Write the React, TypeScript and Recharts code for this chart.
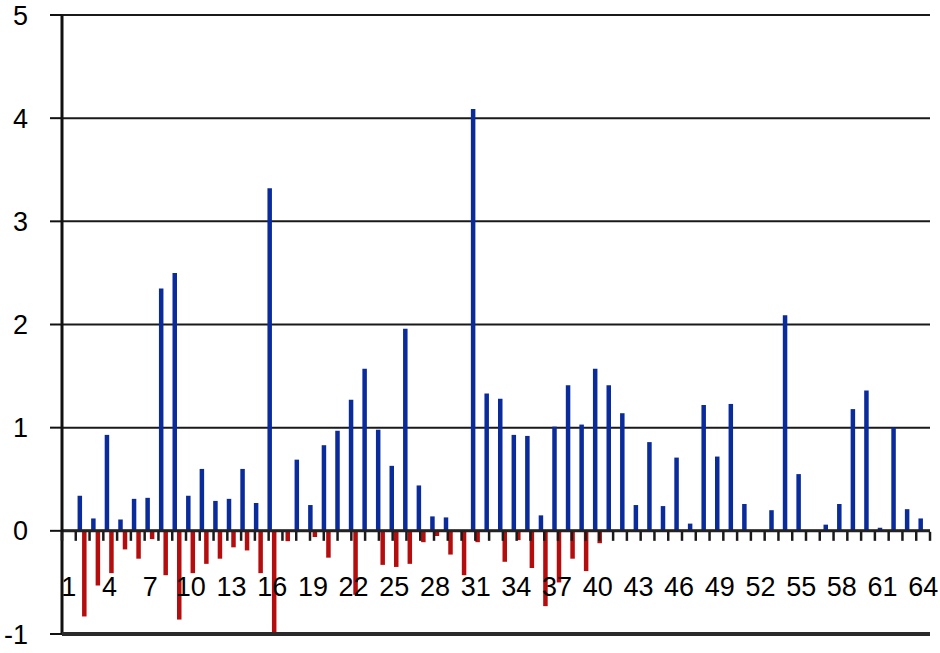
import React from 'react';
import { BarChart, Bar, XAxis, YAxis, CartesianGrid, ReferenceLine } from 'recharts';

const categories = [
  1, 2, 3, 4, 5, 6, 7, 8, 9, 10, 11, 12, 13, 14, 15, 16,
  17, 18, 19, 20, 21, 22, 23, 24, 25, 26, 27, 28, 29, 30, 31, 32,
  33, 34, 35, 36, 37, 38, 39, 40, 41, 42, 43, 44, 45, 46, 47, 48,
  49, 50, 51, 52, 53, 54, 55, 56, 57, 58, 59, 60, 61, 62, 63, 64,
];

const blueValues = [
  0, 0.34, 0.12, 0.93, 0.11, 0.31, 0.32, 2.35, 2.5, 0.34, 0.6, 0.29, 0.31, 0.6, 0.27, 3.32,
  0, 0.69, 0.25, 0.83, 0.97, 1.27, 1.57, 0.98, 0.63, 1.96, 0.44, 0.14, 0.13, 0, 4.09, 1.33,
  1.28, 0.93, 0.92, 0.15, 1.01, 1.41, 1.03, 1.57, 1.41, 1.14, 0.25, 0.86, 0.24, 0.71, 0.07, 1.22,
  0.72, 1.23, 0.26, 0, 0.2, 2.09, 0.55, 0, 0.06, 0.26, 1.18, 1.36, 0.03, 1.0, 0.21, 0.12,
];

const redValues = [
  0, -0.83, -0.53, -0.41, -0.18, -0.27, -0.08, -0.43, -0.86, -0.41, -0.32, -0.27, -0.16, -0.19, -0.41, -0.99,
  -0.1, 0, -0.06, -0.26, 0, -0.62, 0, -0.33, -0.35, -0.32, -0.11, -0.05, -0.23, -0.43, -0.11, 0,
  -0.3, -0.09, -0.36, -0.73, -0.5, -0.27, -0.39, -0.12, 0, 0, 0, 0, 0, 0, 0, 0,
  0, 0, 0, 0, 0, 0, 0, 0, 0, 0, 0, 0, 0, 0, 0, 0,
];

const labeledCategories = [1, 4, 7, 10, 13, 16, 19, 22, 25, 28, 31, 34, 37, 40, 43, 46, 49, 52, 55, 58, 61, 64];
const yTicks = [-1, 0, 1, 2, 3, 4, 5];
const edgeTicks = [
  0, 1, 2, 3, 4, 5, 6, 7, 8, 9, 10, 11, 12, 13, 14, 15, 16,
  17, 18, 19, 20, 21, 22, 23, 24, 25, 26, 27, 28, 29, 30, 31, 32,
  33, 34, 35, 36, 37, 38, 39, 40, 41, 42, 43, 44, 45, 46, 47, 48,
  49, 50, 51, 52, 53, 54, 55, 56, 57, 58, 59, 60, 61, 62, 63, 64,
];

const W = 940;
const H = 653;
const AXIS_H = 1;
const M = { top: 15, right: 10, bottom: 19 - 2 * AXIS_H, left: 0 };
const Y_MIN = -1;
const Y_MAX = 5;
const PLOT_H = H - M.top - M.bottom - 2 * AXIS_H;
const ZERO_FROM_BOTTOM = (PLOT_H * (0 - Y_MIN)) / (Y_MAX - Y_MIN);

const FONT = '"Liberation Sans", Arial, sans-serif';

const data = categories.map((c, i) => ({ cat: String(c), pos: blueValues[i], neg: redValues[i] }));

function CategoryTick(props: any) {
  const { x, y, payload } = props;
  if (!labeledCategories.includes(Number(payload.value))) return <g />;
  return (
    <text x={x} y={y - ZERO_FROM_BOTTOM + 65} textAnchor="middle" fontFamily={FONT} fontSize={27} fill="#000">
      {payload.value}
    </text>
  );
}

function EdgeTick(props: any) {
  const { x, y } = props;
  const zy = y - ZERO_FROM_BOTTOM;
  return <line x1={x} x2={x} y1={zy} y2={zy + 9} stroke="#1a1a1a" strokeWidth={2.5} />;
}

export default function App() {
  return (
    <div style={{ position: 'absolute', left: 0, top: 0, width: W, height: H, background: '#fff' }}>
      <BarChart width={W} height={H} data={data} margin={M} barGap={0}>
        <CartesianGrid vertical={false} stroke="#1a1a1a" strokeWidth={2} />
        <YAxis
          type="number"
          domain={[Y_MIN, Y_MAX]}
          ticks={yTicks}
          interval={0}
          width={62}
          axisLine={{ stroke: '#111', strokeWidth: 3 }}
          tickLine={{ stroke: '#111', strokeWidth: 2 }}
          tickSize={12}
          tickMargin={22}
          tick={{ fontFamily: FONT, fontSize: 27, fill: '#000' }}
        />
        <XAxis
          dataKey="cat"
          interval={0}
          height={AXIS_H}
          tickLine={false}
          tickSize={0}
          tickMargin={0}
          axisLine={{ stroke: '#2a2a2a', strokeWidth: 4 }}
          tick={<CategoryTick />}
        />
        <XAxis
          xAxisId="edges"
          type="number"
          domain={[0, 64]}
          ticks={edgeTicks}
          interval={0}
          allowDataOverflow
          height={AXIS_H}
          tickLine={false}
          tickSize={0}
          tickMargin={0}
          axisLine={false}
          tick={<EdgeTick />}
        />
        <Bar dataKey="pos" fill="#0a2b9c" barSize={4.5} isAnimationActive={false} />
        <Bar dataKey="neg" fill="#b50d0d" barSize={4.5} isAnimationActive={false} />
        <ReferenceLine y={0} stroke="#222" strokeWidth={3} />
      </BarChart>
    </div>
  );
}
